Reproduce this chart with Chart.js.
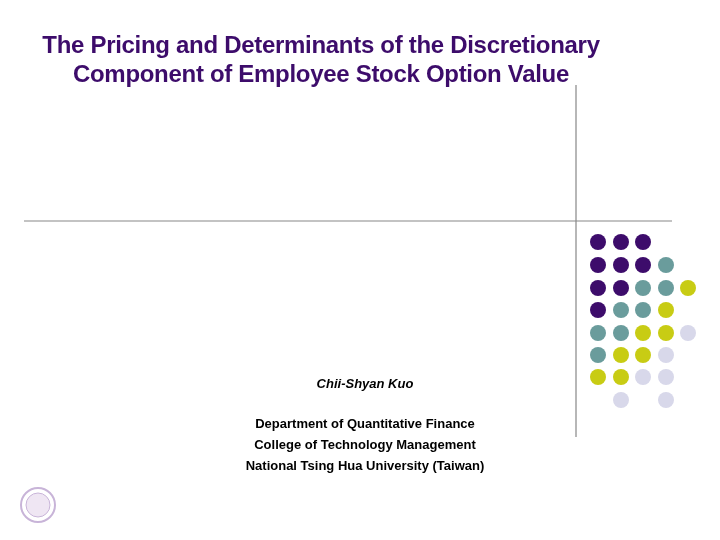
<!DOCTYPE html>
<html><head><meta charset="utf-8">
<script src="https://cdn.jsdelivr.net/npm/chart.js"></script>
<style>
html,body{margin:0;padding:0;background:#fff;width:720px;height:540px;overflow:hidden;font-family:"Liberation Sans",Arial,sans-serif}
#wrap{position:absolute;left:0;top:0;width:720px;height:540px}
.t{position:absolute;left:0;width:642px;text-align:center;color:#3d0c6b;font-weight:bold;font-size:24px;line-height:29px;top:30px;letter-spacing:-0.3px}
.a{position:absolute;left:200px;width:330px;text-align:center;font-size:13px;font-weight:bold;color:#000}
</style></head><body>
<div id="wrap"><canvas id="c" width="720" height="540"></canvas></div>
<div class="t">The Pricing and Determinants of the Discretionary<br>Component of Employee Stock Option Value</div>
<div class="a" style="top:376px;font-style:italic">Chii-Shyan Kuo</div>
<div class="a" style="top:416px">Department of Quantitative Finance</div>
<div class="a" style="top:437px">College of Technology Management</div>
<div class="a" style="top:458px">National Tsing Hua University (Taiwan)</div>
<script>
const colX=[598,621,643,666,688];
const rowY=[242,265,288,310,333,355,377,400];
const gridRows=["PPP","PPPT","PPTTY","PTTY","TTYYL","TYYL","YYLL",".L.L"];
const palette={P:"#3d0c6b",T:"#6a9c9c",Y:"#c8cc14",L:"#d8d8ea"};
const vLine=[[576,85],[576,437]];
const hLine=[[24,221],[672,221]];
const groups={P:[],T:[],Y:[],L:[]};
gridRows.forEach((r,i)=>[...r].forEach((ch,j)=>{if(groups[ch])groups[ch].push({x:colX[j],y:rowY[i]});}));
const ds=Object.keys(groups).map(k=>({type:'scatter',data:groups[k],backgroundColor:palette[k],borderWidth:0,pointRadius:8,pointHoverRadius:8}));
ds.push({type:'line',data:vLine.map(p=>({x:p[0],y:p[1]})),borderColor:'#888',borderWidth:1.2,pointRadius:0});
ds.push({type:'line',data:hLine.map(p=>({x:p[0],y:p[1]})),borderColor:'#888',borderWidth:1.2,pointRadius:0});
ds.push({type:'scatter',data:[{x:38,y:505}],backgroundColor:'rgba(0,0,0,0)',borderColor:'#c8b4d8',borderWidth:2,pointRadius:17});
ds.push({type:'scatter',data:[{x:38,y:505}],backgroundColor:'#efe6f3',borderColor:'#c8b4d8',borderWidth:1,pointRadius:12});
new Chart(document.getElementById('c'),{type:'scatter',data:{datasets:ds},options:{responsive:false,animation:false,layout:{padding:0,autoPadding:false},
plugins:{legend:{display:false},tooltip:{enabled:false}},
scales:{x:{type:'linear',min:0,max:720,display:false},y:{type:'linear',min:0,max:540,reverse:true,display:false}}}});
</script></body></html>
